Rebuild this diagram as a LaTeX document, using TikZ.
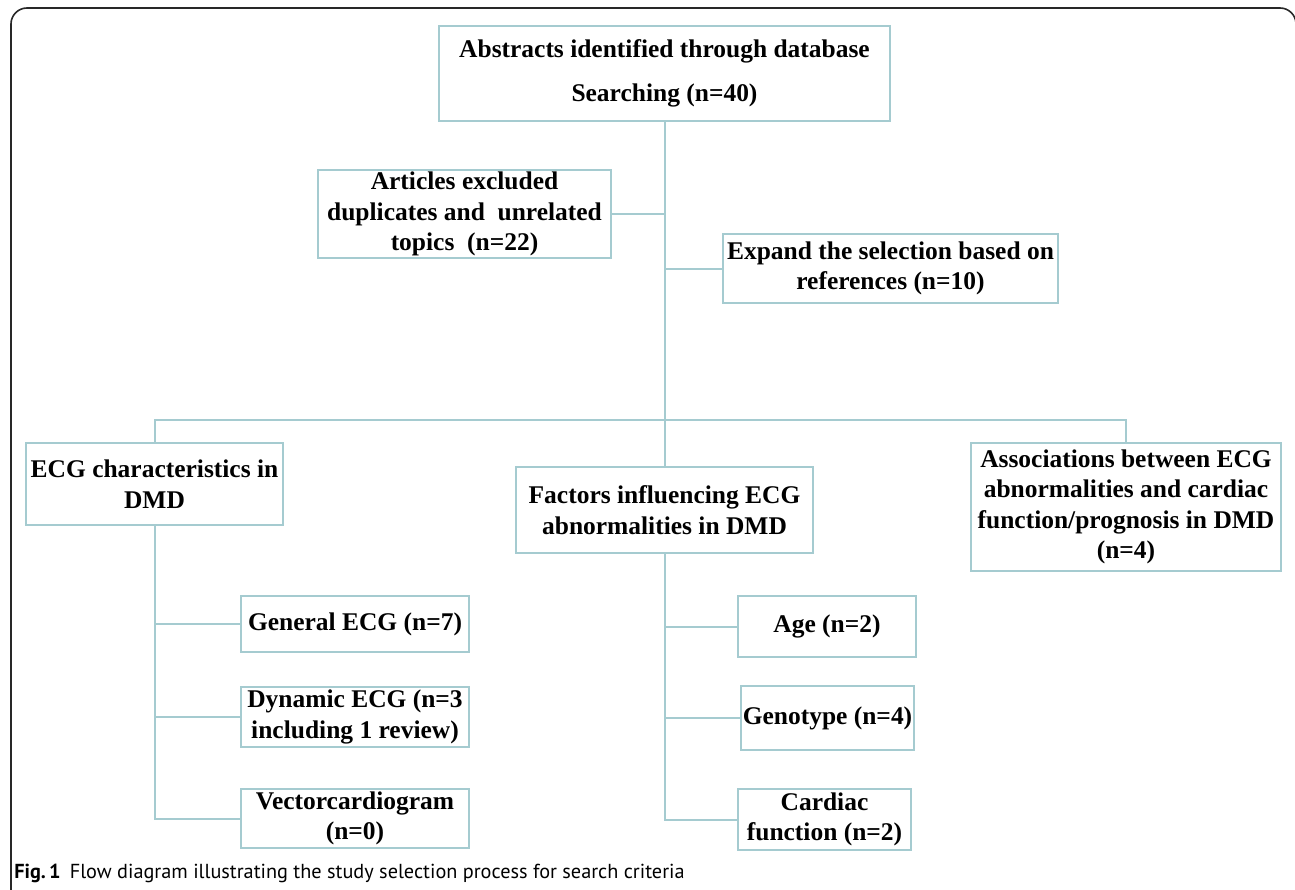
\documentclass[tikz,border=0pt]{standalone}
\usepackage{fontspec}
\setmainfont{Liberation Serif}
\newfontfamily\capfont{PT Sans}
\definecolor{ln}{RGB}{165,203,208}
\definecolor{frame}{RGB}{40,40,40}
\tikzset{
  box/.style={draw=ln, line width=1.5pt, align=center, inner sep=0pt,
    font=\fontsize{19.1}{22.8}\selectfont\bfseries},
  conn/.style={draw=ln, line width=1.5pt},
}
\begin{document}
\begin{tikzpicture}[x=0.75pt,y=-0.75pt]
\useasboundingbox (0,0) rectangle (1295,889);
\begin{scope}
\clip (0,0) rectangle (1295,889);
\draw[line width=1.2pt, frame, rounded corners=12pt] (11,8) rectangle (1296,930);
\end{scope}

\node[box, minimum width=451*0.75pt, minimum height=95*0.75pt, font=\fontsize{19.1}{33}\selectfont\bfseries] (top) at (664.5,73.5)
  {Abstracts identified through database\\Searching (n=40)};
\node[box, minimum width=293*0.75pt, minimum height=88*0.75pt] (excl) at (464.5,214)
  {Articles excluded\\duplicates and\ \ unrelated\\topics\ \ (n=22)};
\node[box, minimum width=335*0.75pt, minimum height=69*0.75pt] (exp) at (890.5,268.5)
  {Expand the selection based on\\references (n=10)};
\node[box, minimum width=257*0.75pt, minimum height=82*0.75pt] (ecg) at (154.5,484)
  {ECG characteristics in\\DMD};
\node[box, minimum width=297*0.75pt, minimum height=86*0.75pt] (fac) at (664.5,510)
  {Factors influencing ECG\\abnormalities in DMD};
\node[box, minimum width=310*0.75pt, minimum height=128*0.75pt] (assoc) at (1126,507)
  {Associations between ECG\\abnormalities and cardiac\\function/prognosis in DMD\\(n=4)};
\node[box, minimum width=228*0.75pt, minimum height=56*0.75pt] (gen) at (355,624)
  {General ECG (n=7)};
\node[box, minimum width=228*0.75pt, minimum height=60*0.75pt] (dyn) at (355,717)
  {Dynamic ECG (n=3\\including 1 review)};
\node[box, minimum width=228*0.75pt, minimum height=59*0.75pt] (vec) at (355,818.5)
  {Vectorcardiogram\\(n=0)};
\node[box, minimum width=178*0.75pt, minimum height=61*0.75pt] (age) at (827,626.5)
  {Age (n=2)};
\node[box, minimum width=173*0.75pt, minimum height=64*0.75pt] (geno) at (827.5,718)
  {Genotype (n=4)};
\node[box, minimum width=173*0.75pt, minimum height=61*0.75pt] (card) at (824.5,819.5)
  {Cardiac\\function (n=2)};

\coordinate (bus) at (664.5,420);
\draw[conn] (top.south) -- (fac.north);
\draw[conn] (excl.east) -- (excl.east -| top.south);
\draw[conn] (top.south |- exp.west) -- (exp.west);
\draw[conn] (ecg.north) -- (ecg.north |- bus) -- (assoc.north |- bus) -- (assoc.north);
\draw[conn] (ecg.south) -- (ecg.south |- vec.west) -- (vec.west);
\draw[conn] (ecg.south |- gen.west) -- (gen.west);
\draw[conn] (ecg.south |- dyn.west) -- (dyn.west);
\draw[conn] (fac.south) -- (fac.south |- card.west) -- (card.west);
\draw[conn] (fac.south |- age.west) -- (age.west);
\draw[conn] (fac.south |- geno.west) -- (geno.west);

\node[anchor=base west, inner sep=0pt, font=\capfont\fontsize{15.2}{18}\selectfont] (cap) at (14,878)
  {\textbf{Fig.\,1}\hspace{0.45em}Flow diagram illustrating the study selection process for search criteria};
\end{tikzpicture}
\end{document}
